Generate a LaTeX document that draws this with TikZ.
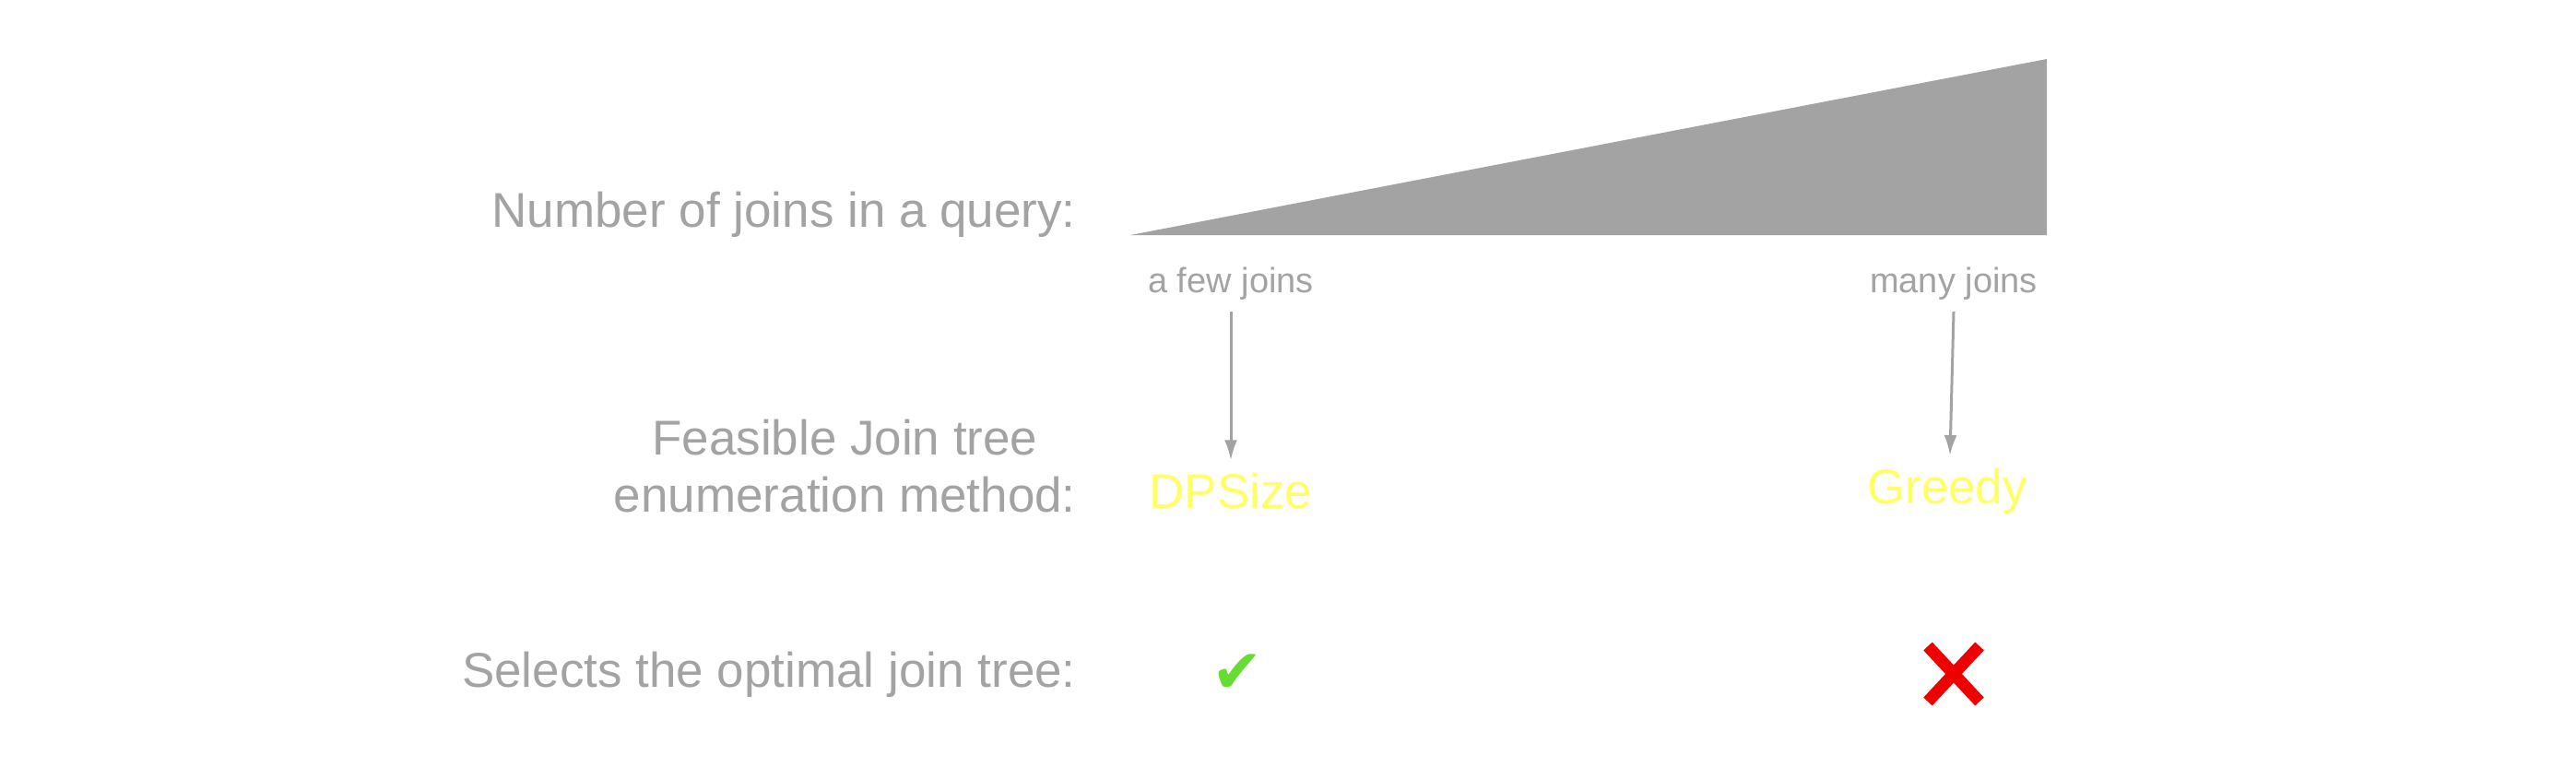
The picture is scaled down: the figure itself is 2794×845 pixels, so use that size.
\documentclass[tikz,border=0pt]{standalone}
\usepackage{fontspec}
\setmainfont{Liberation Sans}
\newfontfamily\symfont{DejaVu Sans}
\usetikzlibrary{arrows.meta}
\definecolor{gristexte}{HTML}{A3A3A3}
\definecolor{jaune}{HTML}{FFFF66}
\definecolor{vert}{HTML}{66DD33}
\definecolor{rouge}{HTML}{EE0000}
\begin{document}
\begin{tikzpicture}[x=1pt,y=-1pt]
% Styles
\tikzstyle{etiquette}=[text=gristexte,font=\fontsize{53}{62}\selectfont,align=center,inner sep=0pt]
\tikzstyle{petite}=[text=gristexte,font=\fontsize{38}{44}\selectfont,inner sep=0pt]
\tikzstyle{methode}=[text=jaune,font=\fontsize{53}{62}\selectfont,inner sep=0pt]
\tikzstyle{fleche}=[-{Latex[length=22pt,width=14pt]},gristexte,line width=3pt]
\useasboundingbox (0,0) rectangle (2794,845);
% Triangle
\fill[gristexte] (1226,255) -- (2220,64) -- (2220,255) -- cycle;
% Etiquettes de gauche
\node[etiquette,anchor=east] (Nombre) at (1167,233) {Number of joins in a query:};
\node[etiquette,anchor=east] (Methode) at (1167,506) {Feasible Join tree\\enumeration method:};
\node[etiquette,anchor=east] (Optimal) at (1167,732) {Selects the optimal join tree:};
% Colonnes
\node[petite] (Peu) at (1335,308) {a few joins};
\node[petite] (Beaucoup) at (2119,308) {many joins};
\node[methode] (DPSize) at (1335,533) {DPSize};
\node[methode] (Greedy) at (2112,533) {Greedy};
\node[text=vert,font=\symfont\fontsize{66}{72}\selectfont,inner sep=0pt] (Oui) at (1342,731) {✔};
\coordinate (Non) at (2119,731);
\draw[rouge,line width=13pt] ([shift={(-28pt,30pt)}]Non) -- ([shift={(28pt,-30pt)}]Non)
  ([shift={(28pt,30pt)}]Non) -- ([shift={(-28pt,-30pt)}]Non);
% Arcs
\draw[fleche] ([yshift=-12pt]Peu.south) -- ([yshift=14pt]DPSize.north);
\draw[fleche] ([yshift=-12pt]Beaucoup.south) -- ([xshift=3pt,yshift=14pt]Greedy.north);
\end{tikzpicture}
\end{document}
